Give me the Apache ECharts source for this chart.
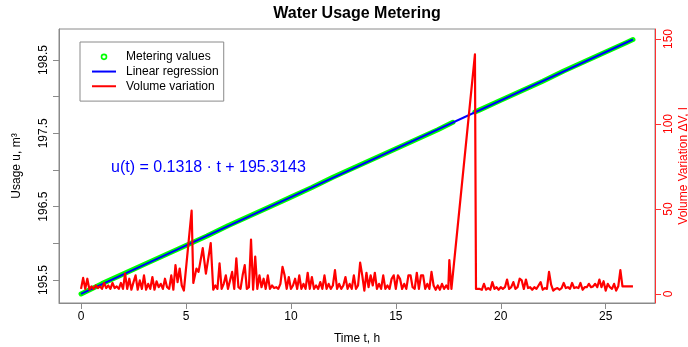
<!DOCTYPE html>
<html><head><meta charset="utf-8">
<script src="https://cdn.jsdelivr.net/npm/echarts@6/dist/echarts.min.js"></script>
<style>html,body{margin:0;padding:0;background:#fff}#c{width:688px;height:347px}</style>
</head><body><div id="c"></div>
<script>
const chartTitle = 'Water Usage Metering';
const xTicks = [0, 5, 10, 15, 20, 25];
const uTicks = [195.5, 196, 196.5, 197, 197.5, 198, 198.5];
const uTickLabels = [195.5, 196.5, 197.5, 198.5];
const vTicks = [0, 50, 100, 150];

// Metering values (cumulative meter reading, m^3); null marks the data gap
const meterTimes = [0,1,2,3,4,5,6,7,8,9,10,11,12,13,14,15,16,17,17.72,18.2,18.77,19,20,21,22,23,24,25,26,26.3];
const meterValues = [195.31,195.45,195.58,195.71,195.84,195.97,196.10,196.24,196.37,196.50,196.63,196.76,196.90,197.03,197.16,197.29,197.42,197.55,197.65,null,197.79,197.82,197.95,198.08,198.21,198.35,198.48,198.61,198.74,198.78];

// Linear regression line (end points)
const regTimes = [0, 26.3];
const regValues = [195.31, 198.78];

// Volume variation (l)
const volTimes = [
 0,0.1,0.2,0.3,0.4,0.5,0.6,0.7,0.8,0.9,1.0,1.1,1.2,1.3,1.4,1.5,1.6,1.7,1.8,1.9,
 2.0,2.1,2.2,2.3,2.4,2.5,2.6,2.7,2.8,2.9,3.0,3.1,3.2,3.3,3.4,3.5,3.6,3.7,3.8,3.9,
 4.0,4.1,4.2,4.3,4.4,4.5,4.6,4.7,4.8,4.9,
 5.27,5.35,5.5,5.6,5.8,5.95,6.18,
 6.3,6.4,6.5,6.6,6.7,6.8,6.9,7.0,7.1,7.2,7.3,7.4,7.5,7.6,7.7,7.8,7.9,
 8.0,8.1,8.2,8.3,8.4,8.5,8.6,8.7,8.8,8.9,9.0,9.1,9.2,9.3,9.4,9.5,9.6,9.7,9.8,9.9,
 10.0,10.1,10.2,10.3,10.4,10.5,10.6,10.7,10.8,10.9,11.0,11.1,11.2,11.3,11.4,11.5,11.6,11.7,11.8,11.9,
 12.0,12.1,12.2,12.3,12.4,12.5,12.6,12.7,12.8,12.9,13.0,13.1,13.2,13.3,13.4,13.5,13.6,13.7,13.8,13.9,
 14.0,14.1,14.2,14.3,14.4,14.5,14.6,14.7,14.8,14.9,15.0,15.1,15.2,15.3,15.4,15.5,15.6,15.7,15.8,15.9,
 16.0,16.1,16.2,16.3,16.4,16.5,16.6,16.7,16.8,16.9,17.0,17.1,17.2,17.3,17.4,17.5,
 17.55,17.65,17.73,18.77,18.82,18.9,
 19.0,19.1,19.2,19.3,19.4,19.5,19.6,19.7,19.8,19.9,20.0,20.1,20.2,20.3,20.4,20.5,20.6,20.7,20.8,20.9,
 21.0,21.1,21.2,21.3,21.4,21.5,21.6,21.7,21.8,21.9,22.0,22.1,22.2,22.3,22.4,22.5,22.6,22.7,22.8,22.9,
 23.0,23.1,23.2,23.3,23.4,23.5,23.6,23.7,23.8,23.9,24.0,24.1,24.2,24.3,24.4,24.5,24.6,24.7,24.8,24.9,
 25.0,25.1,25.2,25.3,25.4,25.5,25.6,25.7,25.8,25.9,26.0,26.1,26.2,26.3
];
const volValues = [
 3,9.5,3,9,2.5,4.5,3,5,3.5,4.5,3,6.5,3.5,5,3,6.5,3.5,4.5,3,6.5,
 3,12,3,9,2.5,7,11,2.5,8,3,11,2.5,6,3,10,2.5,7.5,4,6,3,
 9,4,3,11,2.5,17,7,15,5,2,
 49,6.5,15,13,27,12,30,
 2.5,5,3,18,3,6,11,3,8,13,3,21,4,3,11,17,3,
 4,32,2.5,22,3,11,4,9,3,11,3,5,3.5,4,3,6,16,11,3,10,
 3,5,9,3,11,3,6,3,12.5,3,10,3,5,3,7,3,11,3,6,3,
 5,14,3,6,3,5,10,3,6,3,11,3,5,18.5,11,2,12.5,4,11,5,
 12.5,3,6,3,11,3,5,3,9,11,3,11,9,3,6,3,11,11,4,3,
 12.5,3,11,11,3,6,3,13,5,2.5,5,2.5,6,3,5,3,
 20,3,3,141,3,2,
 3,2.5,6,2.5,3.5,2.5,7,3,4,2.5,4,3,4,8.5,3,4,7,3,4,9,
 8,3,8.5,3.5,4,2.5,4,3,5,7,2.5,3.5,3,13,5.5,2,3,3.5,2.5,3.5,
 6.5,3.5,4,3,6.5,3.5,4,3.5,6.5,2.5,4,4,6,4,4.5,6,4,8.5,4,7.5,
 2,6,4,3,6,2,4.5,14,4.5,4.5,4.5,4.5,4.5,4.5
];

const formulaText = 'u(t) = 0.1318 \u00b7 t + 195.3143';

const FONT = '"Liberation Sans", Arial, Helvetica, sans-serif';
const GRAY = '#8a8a8a';
const pair = (ts, vs) => ts.map((t, i) => [t, vs[i]]);

const chart = echarts.init(document.getElementById('c'), null, {renderer: 'canvas'});
chart.setOption({
  animation: false,
  textStyle: {fontFamily: FONT},
  title: {
    text: chartTitle, left: 357, top: 6, textAlign: 'center', padding: 0,
    textStyle: {fontFamily: FONT, fontSize: 16, fontWeight: 'bold', color: '#000'}
  },
  legend: {
    orient: 'vertical', left: 80, top: 42,
    padding: [7.5, 5, 7.5, 12], itemGap: 0, itemWidth: 24, itemHeight: 5,
    borderColor: GRAY, borderWidth: 1, backgroundColor: '#fff',
    textStyle: {fontFamily: FONT, fontSize: 12, color: '#000', lineHeight: 14.7, padding: [0, 0, 0, 5]},
    data: [
      {name: 'Metering values', icon: 'circle', itemStyle: {color: 'rgba(0,0,0,0)', borderColor: '#00ff00', borderWidth: 1.6}},
      {name: 'Linear regression', icon: 'path://M0,0H24V2H0Z', itemStyle: {color: '#0000ff'}},
      {name: 'Volume variation', icon: 'path://M0,0H24V2H0Z', itemStyle: {color: '#ff0000'}}
    ]
  },
  grid: {left: 59, right: 33, top: 29, bottom: 44, show: true, borderColor: GRAY, borderWidth: 1,
         backgroundColor: 'transparent', containLabel: false, outerBoundsMode: 'none'},
  xAxis: {
    type: 'value', min: -1.05, max: 27.35,
    name: 'Time t, h', nameLocation: 'middle', nameGap: 30,
    nameTextStyle: {fontFamily: FONT, fontSize: 12, color: '#000'},
    axisLine: {show: true, onZero: false, lineStyle: {color: GRAY}},
    axisTick: {show: true, length: 6, customValues: xTicks, lineStyle: {color: GRAY}},
    axisLabel: {customValues: xTicks, fontSize: 12, color: '#000', margin: 8, fontFamily: FONT},
    splitLine: {show: false}
  },
  yAxis: [
    {
      type: 'value', position: 'left', min: 195.186, max: 198.923,
      name: 'Usage u, m\u00b3', nameLocation: 'middle', nameGap: 36, nameRotate: 90,
      nameTextStyle: {fontFamily: FONT, fontSize: 12, color: '#000'},
      axisLine: {show: true, onZero: false, lineStyle: {color: GRAY}},
      axisTick: {show: true, length: 6, customValues: uTicks, lineStyle: {color: GRAY}},
      axisLabel: {customValues: uTickLabels, rotate: 90, fontSize: 12, color: '#000', margin: 9, fontFamily: FONT},
      splitLine: {show: false}
    },
    {
      type: 'value', position: 'right', min: -5.29, max: 155.88,
      name: 'Volume Variation \u0394V, l', nameLocation: 'middle', nameGap: 23, nameRotate: 90,
      nameMoveOverlap: false,
      nameTextStyle: {fontFamily: FONT, fontSize: 12, color: '#ff0000'},
      axisLine: {show: true, onZero: false, lineStyle: {color: '#ff3030'}},
      axisTick: {show: true, length: 6, customValues: vTicks, lineStyle: {color: '#ff3030'}},
      axisLabel: {customValues: vTicks, rotate: 90, fontSize: 12, color: '#ff0000', margin: 8, fontFamily: FONT},
      splitLine: {show: false}
    }
  ],
  graphic: [{
    type: 'text', left: 111, top: 160, z: 100,
    style: {text: formulaText, fill: '#0000ff', font: '16px ' + FONT}
  }],
  series: [
    {
      name: 'Metering values', type: 'line', yAxisIndex: 0, data: pair(meterTimes, meterValues),
      showSymbol: false, symbol: 'none', connectNulls: false,
      lineStyle: {color: '#00ff00', width: 5, cap: 'round', join: 'round'},
      itemStyle: {color: '#00ff00'}, z: 2
    },
    {
      name: 'Linear regression', type: 'line', yAxisIndex: 0, data: pair(regTimes, regValues),
      showSymbol: false, symbol: 'none',
      lineStyle: {color: '#0000ff', width: 2}, itemStyle: {color: '#0000ff'}, z: 3
    },
    {
      name: 'Volume variation', type: 'line', yAxisIndex: 1, data: pair(volTimes, volValues),
      showSymbol: false, symbol: 'none',
      lineStyle: {color: '#ff0000', width: 2.2, join: 'round'}, itemStyle: {color: '#ff0000'}, z: 4
    }
  ]
});
</script>
</body></html>
